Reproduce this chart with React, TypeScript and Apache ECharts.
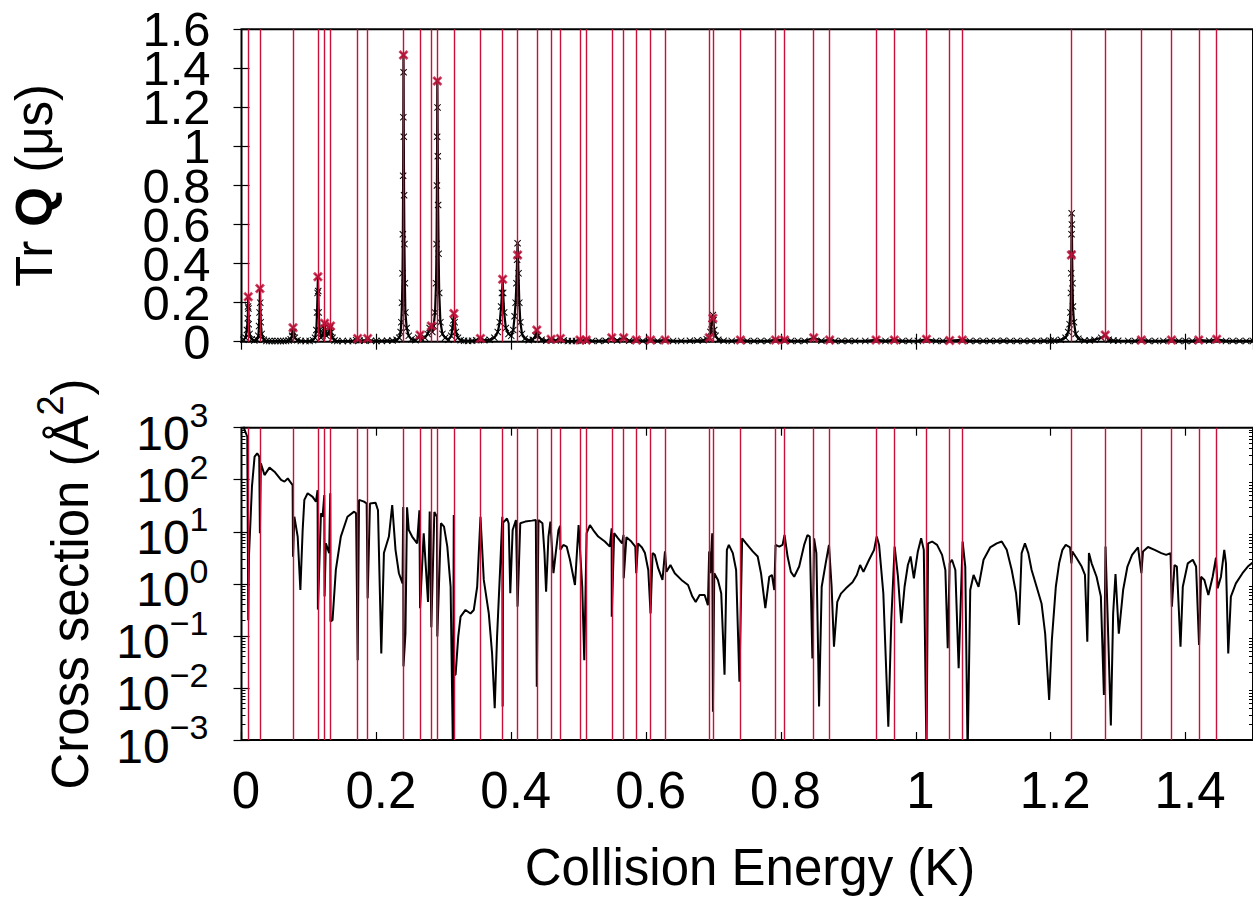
import React, { useEffect, useRef } from 'react';
import * as echarts from 'echarts';

// Resonance energies (K) — red vertical lines and red crosses
const resE = [0.0100,0.0273,0.0764,0.1133,0.1232,0.1320,0.1723,0.1871,0.2402,0.2648,0.2815,0.2904,0.3150,0.3544,0.3873,0.4094,0.4379,0.4591,0.4729,0.5019,0.5112,0.5491,0.5668,0.5854,0.6067,0.6282,0.6937,0.6990,0.7399,0.7920,0.8053,0.8486,0.8722,0.9410,0.9681,1.0158,1.0502,1.0689,1.2307,1.2809,1.3345,1.3792,1.4196,1.4462];
// Tr Q at the resonance energies (µs)
const resTrQ = [0.23,0.273,0.072,0.333,0.094,0.080,0.017,0.017,1.468,0.034,0.080,1.335,0.145,0.017,0.320,0.444,0.060,0.012,0.017,0.009,0.009,0.020,0.020,0.009,0.009,0.009,0.020,0.120,0.009,0.009,0.009,0.020,0.009,0.009,0.009,0.012,0.006,0.009,0.444,0.034,0.009,0.009,0.009,0.012];

// Tr Q trace: [energy K, Tr Q µs]
const trqPoints: [number, number][] = [
  [0.003,0.01],[0.006,0.02],[0.008,0.06],[0.0093,0.12],[0.0097,0.18],[0.0100,0.23],[0.0103,0.17],[0.0107,0.09],[0.012,0.04],[0.015,0.012],[0.019,0.006],[0.023,0.01],[0.025,0.03],[0.026,0.08],[0.0268,0.15],[0.0273,0.273],[0.0278,0.2],[0.0285,0.1],[0.030,0.04],[0.033,0.01],[0.037,0.004],[0.041,0.003],[0.045,0.003],[0.050,0.003],
  [0.054,0.003],[0.058,0.003],[0.062,0.003],[0.066,0.004],[0.070,0.006],[0.073,0.012],[0.075,0.03],[0.0758,0.05],[0.0764,0.072],[0.077,0.05],[0.079,0.02],[0.083,0.008],[0.088,0.004],[0.095,0.003],[0.101,0.004],[0.106,0.008],[0.109,0.02],[0.111,0.06],[0.112,0.15],[0.1128,0.25],[0.1133,0.333],[0.1138,0.26],[0.1145,0.15],[0.116,0.06],[0.118,0.02],[0.120,0.03],[0.1225,0.07],[0.1232,0.094],[0.124,0.06],[0.126,0.03],[0.129,0.04],[0.1313,0.07],[0.1320,0.08],[0.133,0.05],[0.135,0.02],[0.138,0.006],[0.142,0.003],
  [0.150,0.003],[0.158,0.003],[0.165,0.004],[0.170,0.008],[0.1723,0.017],[0.175,0.006],[0.182,0.005],[0.1871,0.017],[0.192,0.005],[0.200,0.004],[0.208,0.004],[0.216,0.005],[0.224,0.006],[0.230,0.01],[0.234,0.02],[0.236,0.05],[0.237,0.1],[0.238,0.2],[0.2388,0.35],[0.2393,0.55],[0.2397,0.85],[0.2400,1.15],[0.2402,1.468],[0.2404,1.38],[0.2407,1.05],[0.2411,0.75],[0.2416,0.5],[0.2423,0.3],[0.243,0.15],[0.245,0.07],[0.248,0.03],[0.252,0.012],[0.258,0.008],[0.262,0.02],[0.2648,0.034],[0.267,0.015],[0.272,0.02],[0.276,0.04],[0.279,0.07],[0.2815,0.08],[0.283,0.05],[0.285,0.08],[0.287,0.15],[0.2885,0.3],[0.2893,0.5],[0.2898,0.8],[0.2901,1.05],[0.2904,1.335],[0.2907,1.2],[0.2911,0.95],[0.2916,0.7],[0.2923,0.45],[0.2932,0.25],[0.295,0.1],[0.298,0.04],[0.302,0.02],[0.307,0.01],[0.311,0.03],[0.313,0.07],[0.3143,0.11],[0.3150,0.145],[0.316,0.1],[0.318,0.05],[0.321,0.02],[0.325,0.008],[0.330,0.005],[0.336,0.004],[0.342,0.005],[0.348,0.008],[0.3544,0.017],[0.360,0.008],[0.368,0.01],[0.375,0.02],[0.380,0.05],[0.383,0.1],[0.385,0.18],[0.3863,0.25],[0.3873,0.32],[0.388,0.25],[0.3895,0.15],[0.392,0.07],[0.396,0.04],[0.400,0.03],[0.403,0.06],[0.405,0.13],[0.4065,0.2],[0.4077,0.3],[0.4087,0.42],[0.4094,0.504],[0.4100,0.444],[0.4108,0.35],[0.412,0.2],[0.4135,0.1],[0.416,0.04],[0.42,0.015],[0.426,0.008],[0.432,0.01],[0.436,0.03],[0.4379,0.06],[0.440,0.03],[0.445,0.01],[0.452,0.005],[0.4591,0.012],[0.466,0.006],[0.4729,0.017],[0.478,0.006],
  [0.484,0.003],[0.490,0.003],[0.496,0.004],[0.5019,0.009],[0.506,0.005],[0.5112,0.009],[0.520,0.004],[0.530,0.004],[0.540,0.005],[0.5491,0.02],[0.557,0.006],[0.5668,0.02],[0.575,0.005],[0.5854,0.009],[0.595,0.004],[0.6067,0.009],[0.617,0.004],[0.6282,0.009],[0.640,0.004],[0.652,0.004],[0.665,0.005],[0.676,0.006],[0.685,0.008],[0.690,0.012],[0.6937,0.02],[0.6955,0.05],[0.6970,0.09],[0.6982,0.12],[0.6990,0.137],[0.6998,0.11],[0.701,0.06],[0.703,0.03],[0.707,0.01],[0.715,0.005],[0.727,0.004],[0.7399,0.009],[0.75,0.004],[0.76,0.004],[0.77,0.004],[0.78,0.004],[0.7920,0.009],[0.8053,0.009],[0.815,0.004],[0.825,0.004],[0.835,0.004],[0.8486,0.02],[0.86,0.005],[0.8722,0.009],[0.88,0.004],[0.89,0.004],[0.90,0.004],[0.91,0.004],[0.925,0.004],[0.9410,0.009],[0.955,0.004],[0.9681,0.009],[0.98,0.004],[0.99,0.004],[1.003,0.004],[1.0158,0.012],[1.03,0.004],[1.04,0.004],[1.0502,0.006],[1.0689,0.009],[1.08,0.004],[1.09,0.004],[1.10,0.004],[1.11,0.004],[1.12,0.004],[1.13,0.005],[1.14,0.004],[1.15,0.004],[1.16,0.004],[1.17,0.004],[1.18,0.004],[1.19,0.005],[1.20,0.005],[1.205,0.006],[1.215,0.01],[1.222,0.02],[1.226,0.05],[1.228,0.09],[1.2293,0.15],[1.2300,0.25],[1.2304,0.35],[1.2307,0.444],[1.2309,0.55],[1.2311,0.658],[1.2314,0.6],[1.2318,0.45],[1.2323,0.3],[1.233,0.18],[1.2345,0.1],[1.237,0.04],[1.241,0.015],[1.25,0.006],[1.258,0.006],[1.265,0.01],[1.275,0.02],[1.2809,0.034],[1.286,0.01],[1.293,0.006],[1.30,0.005],[1.315,0.004],[1.325,0.004],[1.3345,0.009],[1.345,0.004],[1.355,0.004],[1.367,0.004],[1.3792,0.009],[1.39,0.004],[1.40,0.004],[1.41,0.004],[1.4196,0.009],[1.435,0.005],[1.4462,0.012],[1.46,0.004],[1.47,0.004],[1.48,0.004],[1.49,0.004],[1.50,0.004]
];

// Cross section trace: energies (K) and values (Å²)
const csE = [0.0005,0.004,0.0086,0.0100,0.0110,0.0155,0.0194,0.0233,0.0263,0.0273,0.0287,0.0341,0.0415,0.0489,0.0587,0.0637,0.0686,0.0720,0.0758,0.0764,0.0784,0.0833,0.0873,0.0907,0.0932,0.0981,0.1055,0.1104,0.1128,0.1133,0.1178,0.1202,0.1228,0.1232,0.1251,0.1300,0.1316,0.1320,0.1350,0.1399,0.1473,0.1571,0.1670,0.1699,0.1723,0.1743,0.1817,0.1856,0.1871,0.1905,0.1989,0.2024,0.2073,0.2112,0.2186,0.2235,0.2284,0.2334,0.2388,0.2398,0.2402,0.2431,0.2455,0.2481,0.2530,0.2604,0.2638,0.2648,0.2702,0.2766,0.2791,0.2815,0.2860,0.2899,0.2904,0.2958,
  0.3003,0.3052,0.3101,0.3136,0.3148,0.3152,0.3175,0.3214,0.3249,0.3322,0.3396,0.3445,0.3495,0.3544,0.3593,0.3667,0.3716,0.3755,0.3790,0.3839,0.3868,0.3873,0.3880,0.3937,0.3962,0.3986,0.4021,0.4070,0.4094,0.4134,0.4208,0.4306,0.4365,0.4379,0.4404,0.4463,0.4493,0.4517,0.4552,0.4581,0.4626,0.4660,0.4700,0.4725,0.4729,0.4773,0.4822,0.4871,0.4921,0.4945,0.4999,0.5053,0.5083,0.5118,0.5167,0.5216,0.5290,0.5388,0.5462,0.5489,0.5491,0.5526,0.5585,0.5644,0.5665,0.5668,0.5708,0.5781,0.5840,0.5854,0.5880,0.5939,
  0.5983,0.6032,0.6066,0.6096,0.6130,0.6179,0.6243,0.6280,0.6302,0.6361,0.6425,0.6524,0.6622,0.6686,0.6735,0.6794,0.6868,0.6917,0.6935,0.6951,0.6981,0.6991,0.7011,0.7065,0.7114,0.7163,0.7198,0.7227,0.7286,0.7335,0.7384,0.7424,0.7483,0.7581,0.7655,0.7704,0.7768,0.7827,0.7866,0.7901,0.7920,0.7975,0.8024,0.8053,0.8098,0.8147,0.8196,0.8270,0.8344,0.8393,0.8427,0.8466,0.8491,0.8525,0.8565,0.8604,0.8663,0.8712,0.8751,0.8786,0.8835,0.8889,
  0.8963,0.9061,0.9125,0.9174,0.9223,0.9307,0.9381,0.9420,0.9455,0.9518,0.9592,0.9636,0.9686,0.9735,0.9784,0.9833,0.9882,0.9922,0.9971,1.0030,1.0079,1.0118,1.0158,1.0182,1.0241,1.0315,1.0389,1.0438,1.0473,1.0502,1.0536,1.0586,1.0635,1.0694,1.0733,1.0768,1.0807,1.0856,1.0930,1.1004,1.1102,1.1200,1.1274,1.1348,1.1422,1.1486,1.1530,1.1569,1.1618,1.1668,1.1717,1.1791,1.1864,
  1.1918,1.1977,1.2017,1.2076,1.2125,1.2174,1.2223,1.2287,1.2307,1.2321,1.2385,1.2459,1.2508,1.2543,1.2567,1.2607,1.2680,1.2744,1.2789,1.2813,1.2853,1.2892,1.2926,1.2961,1.3010,1.3074,1.3138,1.3207,1.3295,1.3345,1.3369,1.3443,1.3541,1.3640,1.3713,1.3777,1.3797,1.3836,1.3871,1.3925,1.3959,1.4033,1.4107,1.4156,1.4200,1.4230,1.4279,1.4338,1.4402,1.4451,1.4476,1.4525,1.4574,1.4599,1.4633,1.4672,1.4746,1.4844,1.4923,1.5];
const csV = [3000,950,670,0.2,3.3,74,278,322,278,9.4,207,123,171,143,99,92,106,92,79,3.3,19.5,8.1,0.76,10.8,41,55,47,38,63,0.32,22.6,19.5,51,0.57,6.0,3.9,55,0.19,0.2,1.85,8.1,19.5,24.4,22.6,0.034,41,38,35,0.53,35,36,26,0.046,3.9,8.1,32.7,4.5,1.6,1.02,30,0.026,0.11,29.5,10.8,8.1,6.0,26,0.34,9.4,0.45,24.4,0.146,24,19.5,0.097,14.6,
  12.6,5.2,0.88,0.0005,21,0.018,0.018,0.097,0.234,0.315,0.27,0.315,0.88,19.5,1.19,0.27,0.046,0.0041,0.097,2.48,19.5,0.0044,15,18,14.6,0.66,10.8,16.9,0.365,14.6,15.7,16.4,16.9,0.0106,16.9,14.6,3.9,0.71,8.1,15.7,1.6,3.9,10.8,13,4.5,5.6,5.2,2.9,1.37,0.95,13.5,0.88,0.034,9.4,13.5,10.8,8.1,6.5,5.2,11.7,0.234,9.4,7.5,6.0,8.7,1.28,7.9,6.5,5.2,1.6,6.0,5.0,
  3.9,1.85,0.27,3.9,3.6,2.0,1.19,4.2,1.7,2.3,1.6,1.19,0.95,0.57,0.45,0.61,0.61,0.39,4.2,1.6,9.4,0.0035,1.6,1.19,0.66,0.018,4.5,5.6,3.9,1.85,0.0132,7.5,6.0,4.2,3.35,1.6,0.34,1.37,1.48,0.76,5.6,5.2,5.6,8.7,3.35,1.7,1.37,2.15,5.6,8.7,8.1,0.037,7.5,3.9,0.0044,0.88,2.48,5.6,0.88,0.062,0.45,0.65,
  0.82,1.07,1.48,2.3,1.7,2.9,4.5,8.1,5.6,0.66,0.0018,0.2,5.2,1.37,0.175,0.88,2.3,3.35,1.28,4.2,7.5,4.5,0.0005,6.0,6.5,5.6,3.6,1.85,0.058,2.48,2.9,1.85,0.024,6.5,2.15,0.0005,0.76,1.48,0.88,2.9,5.0,6.0,6.5,4.5,1.85,0.66,0.162,3.9,6.0,3.9,1.85,0.88,0.42,
  0.11,0.0059,0.083,0.88,2.48,4.5,5.6,5.0,2.48,4.2,3.1,2.15,1.48,0.077,3.9,2.48,1.37,0.57,0.0073,5.2,0.097,0.0019,0.27,1.55,0.11,0.76,2.15,3.6,5.0,1.6,4.2,5.1,4.5,3.9,3.6,3.9,0.365,2.3,2.15,0.062,0.88,2.48,2.9,2.15,0.067,1.37,1.19,0.61,1.37,3.2,0.82,1.37,4.5,2.48,0.046,0.57,1.02,1.6,2.15,2.6];

// Log-axis minor tick values (2..9 × each decade)
const minorMantissas = [2, 3, 4, 5, 6, 7, 8, 9];
const decades = [0.001, 0.01, 0.1, 1, 10, 100];

const RED = '#c8103a';
const FONT = '"Liberation Sans", Arial, Helvetica, sans-serif';
const CROSS = 'path://M1,0L5,4L9,0L10,1L6,5L10,9L9,10L5,6L1,10L0,9L4,5L0,1Z';
const CROSS_BOLD = 'path://M2,0L5,3L8,0L10,2L7,5L10,8L8,10L5,7L2,10L0,8L3,5L0,2Z';

const PLOT_L = 241.5;
const PLOT_W = 1016.7;

export default function App() {
  const ref = useRef<HTMLDivElement>(null);
  useEffect(() => {
    if (!ref.current) return;
    const chart = echarts.init(ref.current, null, { renderer: 'svg' });

    const tick = { inside: true, length: 8, lineStyle: { color: '#000', width: 1.2 } };
    const minorVals: number[] = [];
    decades.forEach((d) => minorMantissas.forEach((m) => minorVals.push(+(m * d).toPrecision(3))));
    const minorTick = { inside: true, length: 4, customValues: minorVals, lineStyle: { color: '#000', width: 1 } };
    const noTick = { show: false };
    const noLine = { show: false };
    const noSplit = { show: false };
    const xBase = { type: 'value' as const, min: 0, max: 1.5, interval: 0.2, axisLine: noLine, splitLine: noSplit, axisTick: tick };
    const fmtLin = (v: number) => String(Math.round(v * 10) / 10);
    // split the tightly packed y labels across two axes so that none is dropped
    const linPart = (even: boolean) => (v: number) => {
      const k = Math.round(v / 0.2);
      return (k % 2 === 0) === even ? fmtLin(v) : '';
    };
    const logPart = (odd: boolean) => (v: number) => {
      const e = Math.round(Math.log10(v));
      if ((Math.abs(e) % 2 === 1) !== odd) return '';
      return `{b|10}{s|${e < 0 ? '\u2212' + -e : e}}`;
    };
    const logRich = {
      b: { fontSize: 48, fontFamily: FONT, color: '#000', verticalAlign: 'bottom', padding: [12, 0, 0, 0] },
      s: { fontSize: 34, fontFamily: FONT, color: '#000', verticalAlign: 'top' },
    };
    const linY = { type: 'value' as const, gridIndex: 0, min: 0, max: 1.6, interval: 0.2, axisLine: noLine, splitLine: noSplit };
    const logY = { type: 'log' as const, logBase: 10, gridIndex: 1, min: 0.001, max: 1000, splitNumber: 6, axisLine: noLine, splitLine: noSplit };
    const linLabel = { fontSize: 49, fontFamily: FONT, color: '#000', margin: 31 };

    const csData = csE.map((e, i) => [e, csV[i]]);
    const resData = resE.map((e, i) => [e, resTrQ[i]]);
    const makeMarkLine = () => ({
      silent: true,
      symbol: ['none', 'none'],
      precision: 4,
      label: { show: false },
      lineStyle: { color: RED, width: 1.4, type: 'solid' as const, opacity: 1 },
      emphasis: { disabled: true },
      animation: false,
      data: resE.map((e) => ({ xAxis: e })),
    });

    chart.setOption({
      animation: false,
      backgroundColor: '#fff',
      grid: [
        { left: PLOT_L, top: 29.3, width: PLOT_W, height: 312.4, show: true, borderColor: '#000', borderWidth: 2, backgroundColor: 'transparent' },
        { left: PLOT_L, top: 427.7, width: PLOT_W, height: 312.3, show: true, borderColor: '#000', borderWidth: 2, backgroundColor: 'transparent' },
      ],
      xAxis: [
        { ...xBase, gridIndex: 0, position: 'bottom', axisLabel: { show: false } },
        { ...xBase, gridIndex: 0, position: 'top', axisLabel: { show: false } },
        {
          ...xBase, gridIndex: 1, position: 'bottom',
          axisLabel: { show: true, showMinLabel: true, showMaxLabel: false, fontSize: 51, fontFamily: FONT, color: '#000', margin: 25, padding: [0, 0, 0, 9], formatter: fmtLin },
        },
        { ...xBase, gridIndex: 1, position: 'top', axisLabel: { show: false } },
      ],
      yAxis: [
        // 0: top panel, left ticks (data axis)
        { ...linY, position: 'left', axisTick: tick, axisLabel: { show: false } },
        // 1: top panel, right ticks
        { ...linY, position: 'right', axisTick: tick, axisLabel: { show: false } },
        // 2: top panel labels 0, 0.4, 0.8, 1.2, 1.6
        { ...linY, position: 'left', axisTick: noTick, axisLabel: { ...linLabel, showMinLabel: true, showMaxLabel: true, formatter: linPart(true) } },
        // 3: top panel labels 0.2, 0.6, 1, 1.4
        { ...linY, position: 'left', axisTick: noTick, axisLabel: { ...linLabel, showMinLabel: false, showMaxLabel: false, formatter: linPart(false) } },
        // 4: bottom panel, left ticks (data axis)
        { ...logY, position: 'left', axisTick: tick, axisLabel: { show: false } },
        // 5: bottom panel, right ticks
        { ...logY, position: 'right', axisTick: tick, axisLabel: { show: false } },
        // 6: bottom labels 10^-3, 10^-1, 10^1, 10^3
        { ...logY, position: 'left', axisTick: noTick, axisLabel: { margin: 33, color: '#000', showMinLabel: true, showMaxLabel: true, formatter: logPart(true), rich: logRich } },
        // 7: bottom labels 10^-2, 10^0, 10^2
        { ...logY, position: 'left', axisTick: noTick, axisLabel: { margin: 33, color: '#000', showMinLabel: false, showMaxLabel: false, formatter: logPart(false), rich: logRich } },
        // 8, 9: minor log ticks left / right
        { ...logY, position: 'left', axisTick: minorTick, axisLabel: { show: false } },
        { ...logY, position: 'right', axisTick: minorTick, axisLabel: { show: false } },
      ],
      graphic: [
        {
          type: 'text', x: 34, y: 185.5, rotation: Math.PI / 2,
          style: {
            text: '{n|Tr }{q|Q}{n| (\u03bcs)}',
            align: 'center', verticalAlign: 'middle', fill: '#000',
            rich: {
              n: { fontSize: 51, fontFamily: FONT, fill: '#000' },
              q: { fontSize: 51, fontFamily: FONT, fontWeight: 'bold', fill: '#000' },
            },
          },
        },
        {
          type: 'text', x: 64, y: 584, rotation: Math.PI / 2,
          style: {
            text: '{n|Cross section (\u00c5}{s|2}{n|)}',
            align: 'center', verticalAlign: 'middle', fill: '#000',
            rich: {
              n: { fontSize: 51, fontFamily: FONT, fill: '#000', verticalAlign: 'bottom', padding: [12, 0, 0, 0] },
              s: { fontSize: 36, fontFamily: FONT, fill: '#000', verticalAlign: 'top' },
            },
          },
        },
        {
          type: 'text', x: 750, y: 867,
          style: { text: 'Collision Energy (K)', fontSize: 51, fontFamily: FONT, fill: '#000', align: 'center', verticalAlign: 'middle' },
        },
      ],
      series: [
        { type: 'line', xAxisIndex: 0, yAxisIndex: 0, data: [], z: 1, markLine: makeMarkLine() },
        { type: 'line', xAxisIndex: 2, yAxisIndex: 4, data: [], z: 1, markLine: makeMarkLine() },
        {
          type: 'line', xAxisIndex: 0, yAxisIndex: 0, z: 3, data: trqPoints,
          symbol: CROSS, symbolSize: 7, showSymbol: true, showAllSymbol: true,
          itemStyle: { color: '#000' }, lineStyle: { color: '#000', width: 2.2 },
          emphasis: { disabled: true }, silent: true,
        },
        {
          type: 'scatter', xAxisIndex: 0, yAxisIndex: 0, z: 4, data: resData,
          symbol: CROSS_BOLD, symbolSize: 10, itemStyle: { color: RED },
          emphasis: { disabled: true }, silent: true,
        },
        {
          type: 'line', xAxisIndex: 2, yAxisIndex: 4, z: 3, data: csData,
          showSymbol: false, symbol: 'none', lineStyle: { color: '#000', width: 2 },
          emphasis: { disabled: true }, silent: true,
        },
      ],
    });
    return () => chart.dispose();
  }, []);
  return <div ref={ref} style={{ position: 'fixed', left: 0, top: 0, width: 1253, height: 899, background: '#fff' }} />;
}
